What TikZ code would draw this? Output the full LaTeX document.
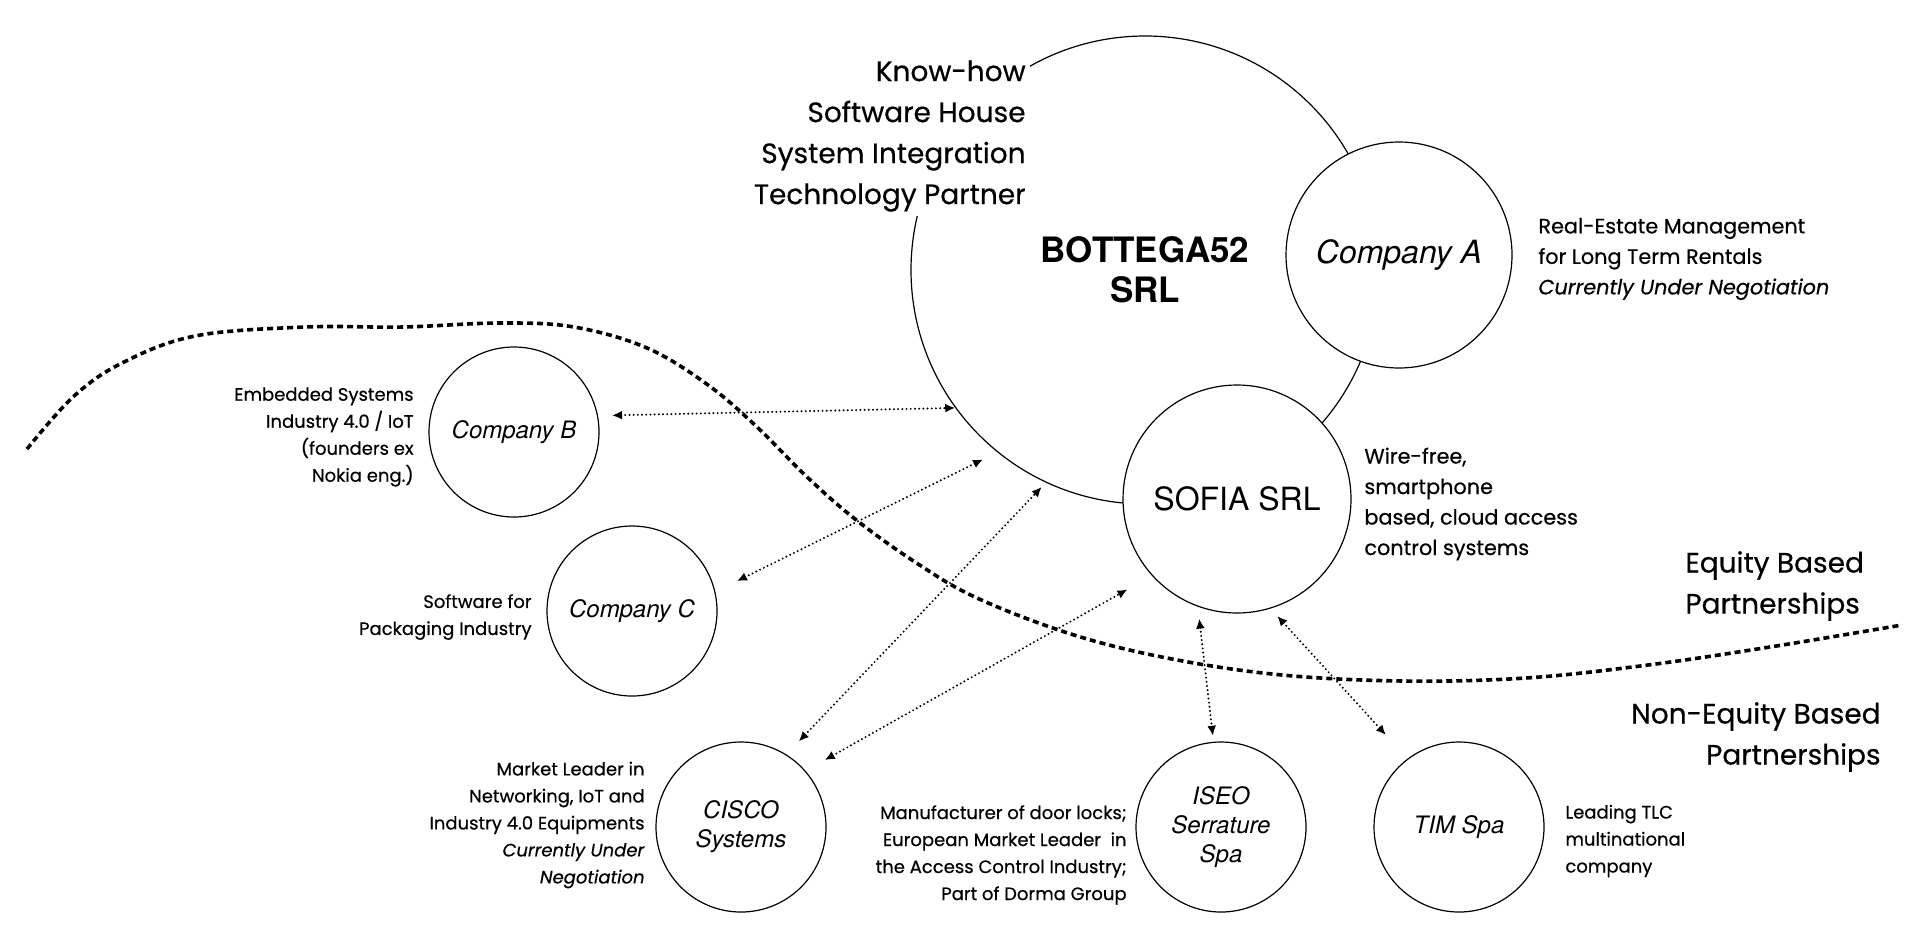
\documentclass[tikz,border=0pt]{standalone}
\usepackage{fontspec}
\setmainfont{Poppins}[FakeBold=0.5]
\newfontfamily\helv{TeX Gyre Heros}
\usetikzlibrary{arrows.meta}

\tikzset{
  firm/.style={circle, draw, line width=0.6pt, fill=white, inner sep=0pt,
    minimum size=85pt, align=center,
    font=\helv\itshape\fontsize{12}{14.5}\selectfont},
  note/.style={inner sep=0pt, font=\fontsize{9}{13.5}\selectfont},
  midnote/.style={inner sep=0pt, font=\fontsize{10.4}{15.25}\selectfont},
  bignote/.style={inner sep=0pt, font=\fontsize{14}{20.5}\selectfont},
  link/.style={{Latex[length=5pt,width=4.5pt]}-{Latex[length=5pt,width=4.5pt]},
    line width=1.1pt, line cap=round, dash pattern=on 0pt off 2.1pt},
  border/.style={line width=1.8pt, dash pattern=on 3pt off 2pt},
}

\begin{document}
\begin{tikzpicture}[x=0.5pt, y=-0.5pt]
  \useasboundingbox (0,0) rectangle (1914,948);

  % Main company
  \node[firm, minimum size=234pt,
    font=\helv\bfseries\fontsize{17.5}{20}\selectfont] (bottega) at (1145,270) {BOTTEGA52\\SRL};
  \node[bignote, align=right, anchor=east, fill=white, inner sep=2pt] (skills) at (1030,136)
    {Know-how\\Software House\\System Integration\\Technology Partner};

  % Equity partners
  \node[firm, minimum size=113pt, font=\helv\itshape\fontsize{16}{19}\selectfont] (compA) at (1399,255) {Company A};
  \node[firm, minimum size=114pt, font=\helv\fontsize{16}{19}\selectfont] (sofia) at (1237,499) {SOFIA SRL};
  \node[firm] (compB) at (514,432) {Company B};
  \node[firm] (compC) at (632,611) {Company C};

  % Non-equity partners
  \node[firm] (cisco) at (741,827) {CISCO\\Systems};
  \node[firm] (iseo) at (1221,827) {ISEO\\Serrature\\Spa};
  \node[firm] (tim) at (1459,827) {TIM Spa};

  % Boundary between the two kinds of partnership
  \draw[border] plot[smooth, tension=0.6] coordinates {
    (27,449) (73,397) (122,363) (195,336) (305,327) (403,327) (500,323)
    (574,327) (647,348) (708,385) (757,427) (806,476) (855,519) (915,562)
    (977,598) (1074,635) (1172,659) (1282,675) (1404,681) (1526,678)
    (1648,665) (1770,647) (1902,625)};

  % Labels
  \node[midnote, align=left, anchor=west] (compAtxt) at (1538,259)
    {Real-Estate Management\\for Long Term Rentals\\\textit{Currently Under Negotiation}};
  \node[midnote, align=left, anchor=west] (sofiatxt) at (1364,504)
    {Wire-free,\\smartphone\\based, cloud access\\control systems};
  \node[note, align=right, anchor=east] (compBtxt) at (414,437)
    {Embedded Systems\\Industry 4.0 / IoT\\(founders ex\\Nokia eng.)};
  \node[note, align=right, anchor=east] (compCtxt) at (532,617)
    {Software for\\Packaging Industry};
  \node[note, align=right, anchor=east] (ciscotxt) at (645,825)
    {Market Leader in\\Networking, IoT and\\Industry 4.0 Equipments\\\textit{Currently Under}\\\textit{Negotiation}};
  \node[note, align=right, anchor=east] (iseotxt) at (1127,855)
    {Manufacturer of door locks;\\European Market Leader\ \ in\\the Access Control Industry;\\Part of Dorma Group};
  \node[note, align=left, anchor=west] (timtxt) at (1565,841)
    {Leading TLC\\multinational\\company};
  \node[bignote, align=left, anchor=west] (equity) at (1685,586) {Equity Based\\Partnerships};
  \node[bignote, align=right, anchor=east] (nonequity) at (1881,737) {Non-Equity Based\\Partnerships};

  % Links
  \draw[link, shorten <=7pt] (compB.11) -- (bottega.216);
  \draw[link, shorten <=12pt, shorten >=8pt] (compC.13) -- (bottega.231);
  \draw[link, shorten <=9pt, shorten >=3pt] (cisco.58) -- (bottega.245);
  \draw[link, shorten <=11pt, shorten >=14pt] (cisco.41) -- (sofia.222);
  \draw[link, shorten <=6pt, shorten >=3pt] (sofia.250) -- (iseo.95);
  \draw[link, shorten <=5pt, shorten >=16pt] (sofia.287) -- (tim.127);
\end{tikzpicture}
\end{document}
